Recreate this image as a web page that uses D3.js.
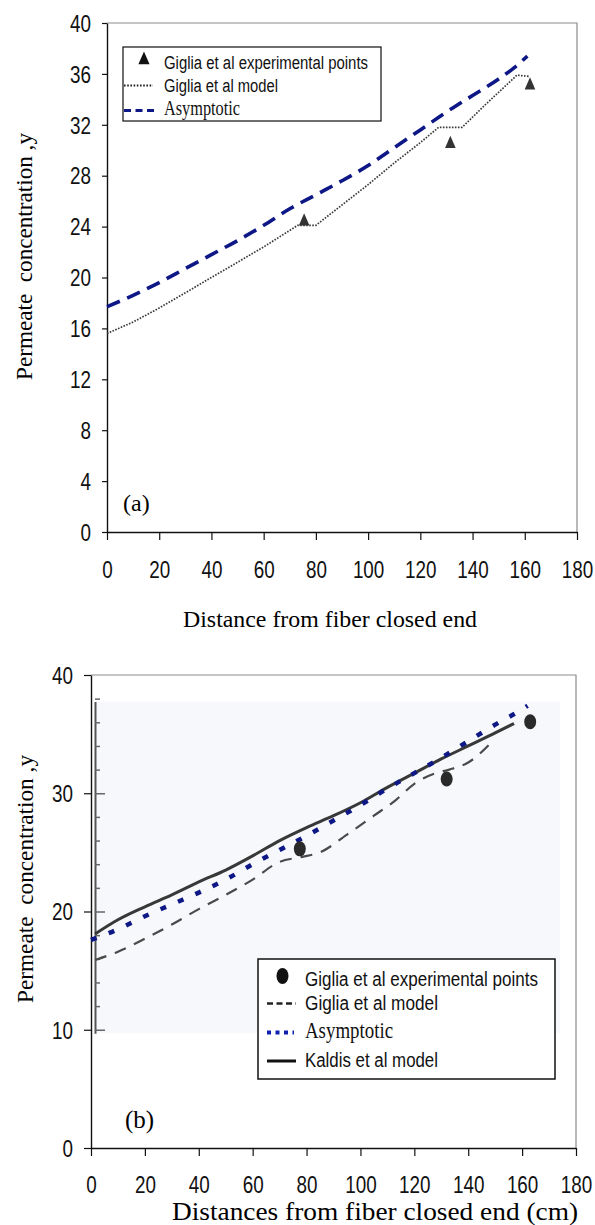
<!DOCTYPE html>
<html>
<head>
<meta charset="utf-8">
<script src="https://cdn.jsdelivr.net/npm/d3@7"></script>
<style>
  html, body { margin: 0; padding: 0; background: #fff; }
  svg { display: block; }
  .sans { font-family: "Liberation Sans", Arial, sans-serif; }
  .serif { font-family: "Liberation Serif", "Times New Roman", serif; }
</style>
</head>
<body>
<svg id="fig" width="595" height="1225"></svg>
<script>
// ---- shared axis ticks ----
const xTickValues = [0, 20, 40, 60, 80, 100, 120, 140, 160, 180];
const yTicksA = [0, 4, 8, 12, 16, 20, 24, 28, 32, 36, 40];
const yTicksB = [0, 10, 20, 30, 40];

// ---- panel (a): [distance, concentration] ----
const asymptoticA = [[0,17.7],[10,18.6],[20,19.6],[30,20.7],[40,21.8],[50,22.9],[60,24.1],[70,25.4],[80,26.5],[90,27.6],[100,28.8],[110,30.2],[120,31.6],[130,33.0],[140,34.3],[150,35.6],[156,36.5],[161,37.4]];
const gigliaModelA = [[0,15.6],[10,16.5],[20,17.6],[30,18.8],[40,20.0],[50,21.2],[60,22.4],[70,23.7],[73,24.1],[80,24.1],[90,25.7],[100,27.3],[110,29.0],[120,30.6],[127,31.8],[136,31.8],[145,33.6],[157,35.9],[162,35.8]];
const experimentalA = [[75.5,24.4],[131.5,30.5],[162,35.1]];

// ---- panel (b) ----
const kaldisModelB = [[1.5,18.1],[10,19.3],[20,20.4],[30,21.4],[40,22.5],[50,23.5],[60,24.7],[70,26.0],[80,27.1],[90,28.1],[100,29.2],[110,30.5],[120,31.7],[130,32.9],[140,34.0],[150,35.1],[157,35.9]];
const asymptoticB = [[0,17.6],[10,18.5],[20,19.6],[30,20.6],[40,21.6],[50,22.7],[60,24.0],[70,25.2],[80,26.4],[90,27.7],[100,29.0],[110,30.4],[120,31.7],[130,33.0],[140,34.4],[150,35.8],[160,37.1],[162,37.4]];
const gigliaModelB = [[1.5,15.9],[10,16.6],[20,17.7],[30,18.9],[40,20.2],[50,21.4],[60,22.7],[70,24.2],[78,24.6],[85,25.0],[95,26.5],[105,28.1],[113,29.4],[120,30.8],[128,31.7],[133,32.0],[140,32.6],[149,34.4]];
const experimentalB = [[77.5,25.3],[132,31.2],[163,36.05]];

// ---- labels ----
const legendA = ["Giglia et al experimental points", "Giglia et al model", "Asymptotic"];
const legendB = ["Giglia et al experimental points", "Giglia et al model", "Asymptotic", "Kaldis et al model"];
const yTitle = "Permeate  concentration ,y";
const xTitleA = "Distance from fiber closed end";
const xTitleB = "Distances from fiber closed end (cm)";

const svg = d3.select("#fig");
const NAVY = "#0d1785";
const SQUEEZE = 0.82;   // horizontal squeeze giving the narrow tick digits

function styleAxis(g) {
  g.attr("font-size", null).attr("font-family", null).attr("class", "sans");
  g.select(".domain").attr("stroke", "#111").attr("stroke-width", 1.4);
  g.selectAll(".tick line").attr("stroke", "#111").attr("stroke-width", 1.2);
  g.selectAll(".tick text").attr("fill", "#111").style("font-size", "23px")
    .attr("transform", `scale(${SQUEEZE},1)`);
}

// =================== panel (a) ===================
const xA = d3.scaleLinear().domain([0, 180]).range([107, 577]);
const yA = d3.scaleLinear().domain([0, 40]).range([532, 23]);

// frame (top and right)
svg.append("path")
  .attr("d", `M${xA(0)},${yA(40)}H${xA(180)}V${yA(0)}`)
  .attr("fill", "none").attr("stroke", "#8c8c8c").attr("stroke-width", 1.2);

svg.append("g").attr("transform", `translate(0,${yA(0)})`)
  .call(d3.axisBottom(xA).tickValues(xTickValues).tickSize(8).tickSizeOuter(0).tickFormat(d3.format("d")))
  .call(styleAxis)
  .call(g => g.selectAll(".tick text").attr("y", 46).attr("dy", 0));

svg.append("g").attr("transform", `translate(${xA(0)},0)`)
  .call(d3.axisLeft(yA).tickValues(yTicksA).tickSize(5).tickSizeOuter(0).tickFormat(d3.format("d")))
  .call(styleAxis)
  .call(g => g.selectAll(".tick text").attr("x", -16 / SQUEEZE).attr("dy", "0.36em"));

const lineA = d3.line().x(d => xA(d[0])).y(d => yA(d[1]));

svg.append("path").datum(gigliaModelA).attr("d", lineA)
  .attr("fill", "none").attr("stroke", "#3a3a3a").attr("stroke-width", 1.7).attr("stroke-dasharray", "1.6,1.4");

svg.append("path").datum(asymptoticA).attr("d", lineA.curve(d3.curveMonotoneX))
  .attr("fill", "none").attr("stroke", NAVY).attr("stroke-width", 3.6).attr("stroke-dasharray", "14,8");

const tri = d3.symbol().type(d3.symbolTriangle).size(60);
svg.append("g").selectAll("path").data(experimentalA).join("path")
  .attr("transform", d => `translate(${xA(d[0])},${yA(d[1])}) scale(0.9,1.2)`)
  .attr("d", tri).attr("fill", "#333");

// legend (a)
const legA = svg.append("g");
legA.append("rect").attr("x", 123).attr("y", 47).attr("width", 258).attr("height", 74)
  .attr("fill", "#fff").attr("stroke", "#222").attr("stroke-width", 1.3);
legA.append("path").attr("d", tri).attr("transform", "translate(144,60) scale(0.95,1.25)").attr("fill", "#111");
legA.append("line").attr("x1", 124).attr("x2", 153).attr("y1", 85.5).attr("y2", 85.5)
  .attr("stroke", "#222").attr("stroke-width", 2).attr("stroke-dasharray", "1.6,1.6");
legA.append("line").attr("x1", 124).attr("x2", 155).attr("y1", 110.5).attr("y2", 110.5)
  .attr("stroke", NAVY).attr("stroke-width", 3).attr("stroke-dasharray", "7,4.5");
const legATexts = [
  { t: legendA[0], y: 68.5, cls: "sans", size: 18, len: 204 },
  { t: legendA[1], y: 91.5, cls: "sans", size: 18, len: 114 },
  { t: legendA[2], y: 114.5, cls: "serif", size: 21, len: 76 }
];
legA.selectAll("text").data(legATexts).join("text")
  .attr("class", d => d.cls).attr("x", 164).attr("y", d => d.y)
  .style("font-size", d => d.size + "px").attr("fill", "#111")
  .attr("textLength", d => d.len).attr("lengthAdjust", "spacingAndGlyphs")
  .text(d => d.t);

// titles (a)
svg.append("text").attr("class", "serif").attr("transform", "translate(32,256.5) rotate(-90)")
  .attr("text-anchor", "middle").style("font-size", "23px").style("white-space", "pre")
  .attr("textLength", 247).attr("lengthAdjust", "spacingAndGlyphs").text(yTitle);
svg.append("text").attr("class", "serif").attr("x", 183).attr("y", 627)
  .style("font-size", "23px").attr("textLength", 294).attr("lengthAdjust", "spacingAndGlyphs").text(xTitleA);
svg.append("text").attr("class", "serif").attr("x", 123).attr("y", 511)
  .style("font-size", "24px").text("(a)");

// =================== panel (b) ===================
const xB = d3.scaleLinear().domain([0, 180]).range([91, 576]);
const yB = d3.scaleLinear().domain([0, 40]).range([1148, 675]);

// scanned plot area
svg.append("rect").attr("x", 95).attr("y", yB(37.75)).attr("width", 465).attr("height", yB(9.7) - yB(37.75))
  .attr("fill", "#f7f8fb");

svg.append("path")
  .attr("d", `M${xB(0)},${yB(40)}H${xB(180)}V${yB(0)}`)
  .attr("fill", "none").attr("stroke", "#8c8c8c").attr("stroke-width", 1.2);

// inner axis of the scanned plot
const yInner = yB.copy().domain([9.7, 37.75]).range([yB(9.7), yB(37.75)]);
svg.append("g").attr("transform", "translate(95,0)")
  .call(d3.axisRight(yInner).tickValues(d3.range(10, 39, 2)).tickSize(5).tickSizeOuter(0).tickFormat(""))
  .call(g => {
    g.select(".domain").attr("stroke", "#555").attr("stroke-width", 2);
    g.selectAll(".tick line").attr("stroke", "#666").attr("stroke-width", 1.5)
      .attr("x2", d => d % 10 === 0 ? 10 : 5);
  });

svg.append("g").attr("transform", `translate(0,${yB(0)})`)
  .call(d3.axisBottom(xB).tickValues(xTickValues).tickSize(8).tickSizeOuter(0).tickFormat(d3.format("d")))
  .call(styleAxis)
  .call(g => g.selectAll(".tick text").attr("y", 45).attr("dy", 0));

svg.append("g").attr("transform", `translate(${xB(0)},0)`)
  .call(d3.axisLeft(yB).tickValues(yTicksB).tickSize(7).tickSizeOuter(0).tickFormat(d3.format("d")))
  .call(styleAxis)
  .call(g => g.selectAll(".tick text").attr("x", -18 / SQUEEZE).attr("dy", "0.36em"));

const lineB = d3.line().x(d => xB(d[0])).y(d => yB(d[1])).curve(d3.curveMonotoneX);

svg.append("path").datum(gigliaModelB).attr("d", lineB)
  .attr("fill", "none").attr("stroke", "#4a4a4a").attr("stroke-width", 2.2).attr("stroke-dasharray", "12,9");
svg.append("path").datum(kaldisModelB).attr("d", lineB)
  .attr("fill", "none").attr("stroke", "#383838").attr("stroke-width", 3);
svg.append("path").datum(asymptoticB).attr("d", lineB)
  .attr("fill", "none").attr("stroke", NAVY).attr("stroke-width", 4.5).attr("stroke-dasharray", "6,13");

svg.append("g").selectAll("ellipse").data(experimentalB).join("ellipse")
  .attr("cx", d => xB(d[0])).attr("cy", d => yB(d[1])).attr("rx", 6).attr("ry", 7.5).attr("fill", "#2a2a2a");

// legend (b)
const legB = svg.append("g");
legB.append("rect").attr("x", 258).attr("y", 959).attr("width", 297).attr("height", 120)
  .attr("fill", "#fff").attr("stroke", "#111").attr("stroke-width", 1.5);
legB.append("ellipse").attr("cx", 282.5).attr("cy", 976).attr("rx", 6).attr("ry", 8).attr("fill", "#111");
legB.append("line").attr("x1", 267).attr("x2", 296).attr("y1", 1003.5).attr("y2", 1003.5)
  .attr("stroke", "#222").attr("stroke-width", 2.5).attr("stroke-dasharray", "6,3.5");
legB.append("line").attr("x1", 267).attr("x2", 294).attr("y1", 1032.5).attr("y2", 1032.5)
  .attr("stroke", "#1020b0").attr("stroke-width", 4).attr("stroke-dasharray", "4,4.5");
legB.append("line").attr("x1", 267).attr("x2", 296).attr("y1", 1061).attr("y2", 1061)
  .attr("stroke", "#111").attr("stroke-width", 3);
const legBTexts = [
  { t: legendB[0], y: 985.5, cls: "sans", size: 20, len: 233 },
  { t: legendB[1], y: 1010, cls: "sans", size: 20, len: 133 },
  { t: legendB[2], y: 1038, cls: "serif", size: 24, len: 88 },
  { t: legendB[3], y: 1066.5, cls: "sans", size: 20, len: 133 }
];
legB.selectAll("text").data(legBTexts).join("text")
  .attr("class", d => d.cls).attr("x", 305).attr("y", d => d.y)
  .style("font-size", d => d.size + "px").attr("fill", "#111")
  .attr("textLength", d => d.len).attr("lengthAdjust", "spacingAndGlyphs")
  .text(d => d.t);

// titles (b)
svg.append("text").attr("class", "serif").attr("transform", "translate(33,879) rotate(-90)")
  .attr("text-anchor", "middle").style("font-size", "23px").style("white-space", "pre")
  .attr("textLength", 248).attr("lengthAdjust", "spacingAndGlyphs").text(yTitle);
svg.append("text").attr("class", "serif").attr("x", 172).attr("y", 1220)
  .style("font-size", "25px").attr("textLength", 406).attr("lengthAdjust", "spacingAndGlyphs").text(xTitleB);
svg.append("text").attr("class", "serif").attr("x", 125).attr("y", 1128)
  .style("font-size", "25px").text("(b)");
</script>
</body>
</html>
